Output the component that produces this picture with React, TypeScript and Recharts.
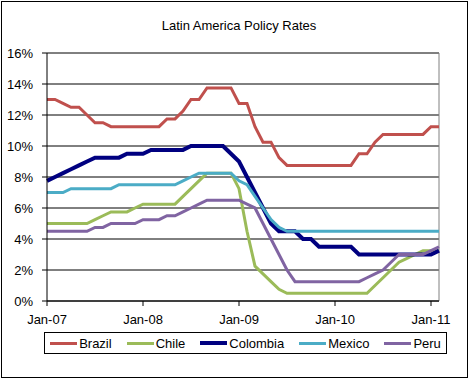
import React from 'react';
import { LineChart, Line, XAxis, YAxis, CartesianGrid, Legend, ReferenceLine } from 'recharts';

// monthly policy rates (%), Jan-07 .. Feb-11
const brazil = [
  13.0, 13.0, 12.75, 12.5, 12.5, 12.0, 11.5, 11.5, 11.25, 11.25, 11.25, 11.25, 11.25, 11.25, 11.25,
  11.75, 11.75, 12.25, 13.0, 13.0, 13.75, 13.75, 13.75, 13.75, 12.75, 12.75, 11.25, 10.25, 10.25, 9.25,
  8.75, 8.75, 8.75, 8.75, 8.75, 8.75, 8.75, 8.75, 8.75, 9.5, 9.5, 10.25, 10.75, 10.75, 10.75, 10.75,
  10.75, 10.75, 11.25, 11.25,
];
const chile = [
  5.0, 5.0, 5.0, 5.0, 5.0, 5.0, 5.25, 5.5, 5.75, 5.75, 5.75, 6.0, 6.25, 6.25, 6.25, 6.25, 6.25,
  6.75, 7.25, 7.75, 8.25, 8.25, 8.25, 8.25, 7.25, 4.5, 2.25, 1.75, 1.25, 0.75, 0.5, 0.5, 0.5, 0.5,
  0.5, 0.5, 0.5, 0.5, 0.5, 0.5, 0.5, 1.0, 1.5, 2.0, 2.5, 2.75, 3.0, 3.25, 3.25, 3.25,
];
const colombia = [
  7.75, 8.0, 8.25, 8.5, 8.75, 9.0, 9.25, 9.25, 9.25, 9.25, 9.5, 9.5, 9.5, 9.75, 9.75, 9.75, 9.75,
  9.75, 10.0, 10.0, 10.0, 10.0, 10.0, 9.5, 9.0, 8.0, 7.0, 6.0, 5.0, 4.5, 4.5, 4.5, 4.0, 4.0, 3.5,
  3.5, 3.5, 3.5, 3.5, 3.0, 3.0, 3.0, 3.0, 3.0, 3.0, 3.0, 3.0, 3.0, 3.0, 3.25,
];
const mexico = [
  7.0, 7.0, 7.0, 7.25, 7.25, 7.25, 7.25, 7.25, 7.25, 7.5, 7.5, 7.5, 7.5, 7.5, 7.5, 7.5, 7.5,
  7.75, 8.0, 8.25, 8.25, 8.25, 8.25, 8.25, 7.75, 7.5, 6.75, 6.0, 5.25, 4.75, 4.5, 4.5, 4.5, 4.5,
  4.5, 4.5, 4.5, 4.5, 4.5, 4.5, 4.5, 4.5, 4.5, 4.5, 4.5, 4.5, 4.5, 4.5, 4.5, 4.5,
];
const peru = [
  4.5, 4.5, 4.5, 4.5, 4.5, 4.5, 4.75, 4.75, 5.0, 5.0, 5.0, 5.0, 5.25, 5.25, 5.25, 5.5, 5.5,
  5.75, 6.0, 6.25, 6.5, 6.5, 6.5, 6.5, 6.5, 6.25, 6.0, 5.0, 4.0, 3.0, 2.0, 1.25, 1.25, 1.25, 1.25,
  1.25, 1.25, 1.25, 1.25, 1.25, 1.5, 1.75, 2.0, 2.5, 3.0, 3.0, 3.0, 3.0, 3.25, 3.5,
];

const xTicks = [0, 12, 24, 36, 48];
const xLabels = ['Jan-07', 'Jan-08', 'Jan-09', 'Jan-10', 'Jan-11'];
const yTicks = [0, 2, 4, 6, 8, 10, 12, 14, 16];

const series = [
  { key: 'Brazil', values: brazil, color: '#C0504D', width: 3 },
  { key: 'Chile', values: chile, color: '#9BBB59', width: 3 },
  { key: 'Colombia', values: colombia, color: '#000080', width: 4 },
  { key: 'Mexico', values: mexico, color: '#4BACC6', width: 3 },
  { key: 'Peru', values: peru, color: '#8064A2', width: 3 },
];

const data = brazil.map((_, i) => {
  const row: any = { m: i };
  series.forEach((s) => (row[s.key] = s.values[i]));
  return row;
});

const font = '"Liberation Sans", Arial, sans-serif';

const renderLegend = (props: any) => {
  const { payload } = props;
  return (
    <div
      style={{
        border: '1px solid #000',
        height: 22,
        display: 'flex',
        alignItems: 'center',
        justifyContent: 'center',
        fontFamily: font,
        fontSize: 13,
        color: '#000',
        boxSizing: 'border-box',
      }}
    >
      {payload.map((p: any, i: number) => {
        const s = series.find((x) => x.key === p.value);
        return (
          <div key={i} style={{ display: 'flex', alignItems: 'center', marginLeft: i === 0 ? 0 : 15 }}>
            <div style={{ width: 27, height: s ? s.width : 3, background: p.color, marginRight: 2 }} />
            <span>{p.value}</span>
          </div>
        );
      })}
    </div>
  );
};

export default function App() {
  return (
    <div
      style={{
        position: 'absolute',
        left: 0,
        top: 0,
        width: 469,
        height: 380,
        background: '#fff',
        fontFamily: font,
      }}
    >
      <div
        style={{
          position: 'absolute',
          left: 1,
          top: 1,
          width: 465,
          height: 375,
          border: '1px solid #000',
        }}
      />
      <div
        style={{
          position: 'absolute',
          left: 0,
          top: 18,
          width: 478,
          textAlign: 'center',
          fontSize: 13,
          color: '#000',
        }}
      >
        Latin America Policy Rates
      </div>
      <div style={{ position: 'absolute', left: 0, top: 0 }}>
        <LineChart width={469} height={380} data={data} margin={{ top: 53, right: 30, bottom: 49, left: 0 }}>
          <CartesianGrid horizontal vertical={false} stroke="#000" strokeWidth={1} />
          <XAxis
            dataKey="m"
            type="number"
            domain={[0, 49]}
            ticks={xTicks}
            interval={0}
            height={30}
            tickFormatter={(v: number) => xLabels[xTicks.indexOf(v)]}
            tick={{ fontSize: 13, fill: '#000', fontFamily: font }}
            axisLine={{ stroke: '#000' }}
            tickLine={{ stroke: '#000' }}
            tickSize={5}
            tickMargin={9}
          />
          <YAxis
            type="number"
            domain={[0, 16]}
            ticks={yTicks}
            interval={0}
            width={47}
            tickFormatter={(v: number) => `${v}%`}
            tick={{ fontSize: 13, fill: '#000', fontFamily: font }}
            axisLine={{ stroke: '#000' }}
            tickLine={{ stroke: '#000' }}
            tickSize={5}
            tickMargin={9}
          />
          <ReferenceLine x={49} stroke="#808080" />
          {series.map((s) => (
            <Line
              key={s.key}
              type="linear"
              dataKey={s.key}
              stroke={s.color}
              strokeWidth={s.width}
              dot={false}
              activeDot={false}
              isAnimationActive={false}
            />
          ))}
          <Legend
            layout="horizontal"
            verticalAlign="middle"
            align="center"
            content={renderLegend}
            wrapperStyle={{ position: 'absolute', left: 44, top: 332, width: 403, height: 22 }}
          />
        </LineChart>
      </div>
    </div>
  );
}
